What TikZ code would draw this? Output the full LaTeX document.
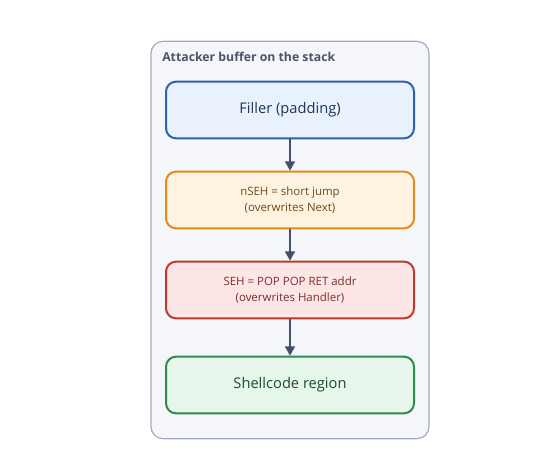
\documentclass[tikz,border=0pt]{standalone}
\usepackage{fontspec}
\setmainfont{Open Sans}
\usetikzlibrary{arrows.meta}
\definecolor{contfill}{HTML}{F5F6FA}
\definecolor{contdraw}{HTML}{A3ABC0}
\definecolor{titlecol}{HTML}{4A5468}
\definecolor{bluefill}{HTML}{E9F1FC}
\definecolor{bluedraw}{HTML}{2F62A8}
\definecolor{bluetext}{HTML}{1F3553}
\definecolor{orfill}{HTML}{FEF3E1}
\definecolor{ordraw}{HTML}{E38B1F}
\definecolor{ortext}{HTML}{6E4A1C}
\definecolor{redfill}{HTML}{FCE7E6}
\definecolor{reddraw}{HTML}{C0392B}
\definecolor{redtext}{HTML}{7A2E2A}
\definecolor{grfill}{HTML}{E7F6EA}
\definecolor{grdraw}{HTML}{2E8B4E}
\definecolor{grtext}{HTML}{1C4A2A}
\definecolor{arrowcol}{HTML}{454E6B}
\tikzset{
  px/.style={x=0.75pt,y=-0.75pt},
  stagebox/.style={draw, line width=1.5pt, rounded corners=7.5pt, minimum width=186pt, minimum height=42.5pt, align=center, inner sep=0pt},
  bigtext/.style={font=\fontsize{11pt}{14pt}\selectfont},
  smalltext/.style={font=\fontsize{8.6pt}{11.5pt}\selectfont},
  flow/.style={draw=arrowcol, line width=1.3pt, -{Triangle[length=7pt,width=7.5pt]}}
}
\begin{document}
\begin{tikzpicture}[px]
\useasboundingbox (0,0) rectangle (560,470);
\node[draw=contdraw, fill=contfill, line width=0.9pt, rounded corners=9pt, minimum width=208.5pt, minimum height=298pt, inner sep=0pt] (cont) at (290,240) {};
\node[anchor=west, inner sep=0pt, text=titlecol, font=\fontsize{9.2pt}{11pt}\selectfont\bfseries] (title) at (162,57) {Attacker buffer on the stack};
\node[stagebox, bigtext, draw=bluedraw, fill=bluefill, text=bluetext] (filler) at (290,110) {Filler (padding)};
\node[stagebox, smalltext, draw=ordraw, fill=orfill, text=ortext] (nseh) at (290,200) {nSEH = short jump\\(overwrites Next)};
\node[stagebox, smalltext, draw=reddraw, fill=redfill, text=redtext] (seh) at (290,290) {SEH = POP POP RET addr\\(overwrites Handler)};
\node[stagebox, bigtext, draw=grdraw, fill=grfill, text=grtext] (shell) at (290,385) {Shellcode region};
\draw[flow] (filler) -- (nseh);
\draw[flow] (nseh) -- (seh);
\draw[flow] (seh) -- (shell);
\end{tikzpicture}
\end{document}
